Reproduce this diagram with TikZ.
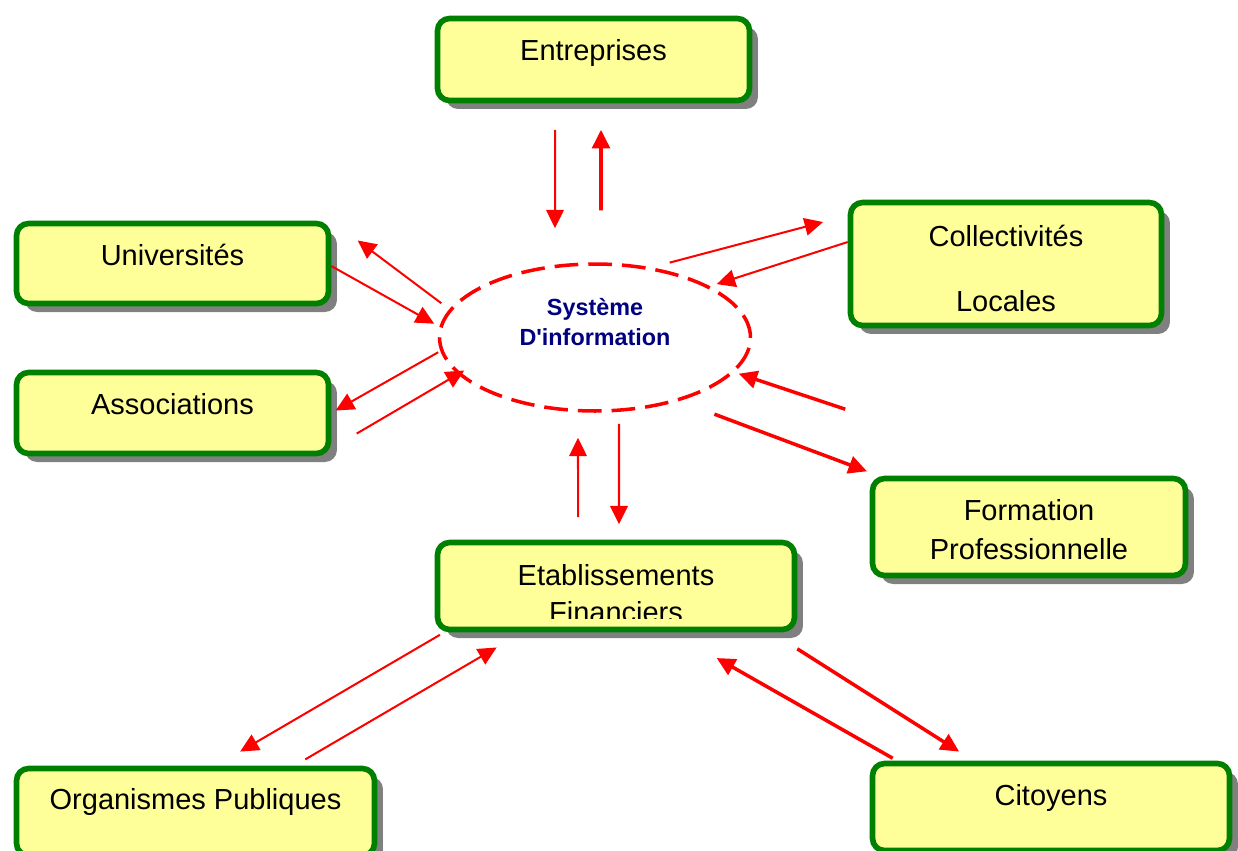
\documentclass[tikz,border=0pt]{standalone}
\usepackage{fontspec}
\setmainfont{Liberation Sans}
\usetikzlibrary{shapes.geometric,arrows.meta,shadows}

\definecolor{jaune}{HTML}{FFFF99}
\definecolor{vert}{HTML}{008000}
\definecolor{rouge}{HTML}{FF0000}
\definecolor{bleunuit}{HTML}{000080}
\definecolor{ombre}{HTML}{808080}

\begin{document}
\begin{tikzpicture}[x=0.02cm, y=-0.02cm]

    % Styles des noeuds
    \tikzstyle{boite} = [rectangle, rounded corners=0.24cm, draw=vert, line width=3.2pt, fill=jaune, inner sep=0pt, drop shadow={shadow xshift=0.17cm, shadow yshift=-0.17cm, fill=ombre, opacity=1}]
    \tikzstyle{ovale} = [ellipse, draw=rouge, line width=2pt, dash pattern=on 13.5pt off 5.7pt, minimum width=6.22cm, minimum height=2.94cm, inner sep=0pt]
    \tikzstyle{texte} = [font=\fontsize{16.5}{20}\selectfont, text height=12.4pt, text depth=4.1pt, inner sep=0pt]
    \tikzstyle{texte2} = [align=center, inner sep=0pt]
    \tikzstyle{titre} = [font=\bfseries\fontsize{13.3}{17}\selectfont, text=bleunuit, align=center, inner sep=0pt]
    \tikzstyle{fleche} = [draw=rouge, line width=1.15pt, -{Triangle[length=10.5pt,width=10pt]}]
    \tikzstyle{grossefleche} = [fleche, line width=2pt]

    \useasboundingbox (0,0) rectangle (1238,850);

    % Noeuds
    \node (si) [ovale] at (595,337.5) {};
    \node (si-t) [titre] at (595,322) {Système\\D\textquotesingle information};

    \node (entr) [boite, minimum width=6.24cm, minimum height=1.64cm] at (593.5,59.5) {};
    \node (entr-t) [texte] at (593.5,53.5) {Entreprises};

    \node (univ) [boite, minimum width=6.24cm, minimum height=1.6cm] at (172.5,263.5) {};
    \node (univ-t) [texte] at (172.5,258) {Universités};

    \node (asso) [boite, minimum width=6.24cm, minimum height=1.62cm] at (172.5,413) {};
    \node (asso-t) [texte] at (172.5,407) {Associations};

    \node (coll) [boite, minimum width=6.22cm, minimum height=2.46cm] at (1006,264) {};
    \node (coll-t) [texte2, font=\fontsize{16.5}{36.85}\selectfont] at (1006,268.5) {Collectivités\\Locales};

    \node (form) [boite, minimum width=6.26cm, minimum height=1.94cm] at (1029,527) {};
    \node (form-t) [texte2, font=\fontsize{16.5}{22.1}\selectfont] at (1029,529.3) {Formation\\Professionnelle};

    \node (etab) [boite, minimum width=7.14cm, minimum height=1.74cm] at (616,586) {};
    \begin{scope}
        \clip ([yshift=0.28cm]etab.south west) rectangle (etab.north east);
        \node (etab-t) [texte2, font=\fontsize{16.5}{21}\selectfont] at (616,593.3) {Etablissements\\Financiers};
    \end{scope}

    \node (orga) [boite, minimum width=7.16cm, minimum height=1.74cm] at (195.5,812) {};
    \node (orga-t) [texte] at (195.5,802.5) {Organismes Publiques};

    \node (cito) [boite, minimum width=7.14cm, minimum height=1.74cm] at (1051,807) {};
    \node (cito-t) [texte] at (1051,798) {Citoyens};

    % Flèches
    \draw [fleche, shorten <=0.53cm, shorten >=0.68cm] ([xshift=-0.77cm]entr.south) -- ([xshift=-0.8cm]si.north);
    \draw [grossefleche, shorten <=1.04cm, shorten >=0.53cm] ([xshift=0.12cm]si.north) -- ([xshift=0.15cm]entr.south);

    \draw [fleche, shorten <=0.2cm, shorten >=0.66cm] (si.169.6) -- (univ.north east);
    \draw [fleche, shorten >=0.12cm] ([yshift=-0.05cm]univ.east) -- (si.176.4);

    \draw [fleche, shorten <=0.05cm, shorten >=0.1cm] (si.185) -- (asso.east);
    \draw [fleche, shorten <=0.59cm, shorten >=-0.15cm] ([yshift=-0.71cm]asso.east) -- (si.195);

    \draw [fleche, shorten <=0.37cm, shorten >=0.51cm] (si.51.3) -- ([yshift=0.97cm]coll.west);
    \draw [fleche, shorten >=0.14cm] ([yshift=0.44cm]coll.west) -- (si.24);

    \draw [grossefleche, shorten >=0.09cm] ([xshift=-0.49cm, yshift=1.33cm]form.north west) -- (si.346.6);
    \draw [grossefleche, shorten <=0.75cm, shorten >=0.25cm] (si.323.7) -- ([xshift=0.18cm]form.north west);

    \draw [fleche, shorten <=0.45cm, shorten >=0.5cm] ([xshift=-0.76cm]etab.north) -- ([xshift=-0.34cm]si.south);
    \draw [fleche, line width=1.4pt, shorten <=0.22cm, shorten >=0.31cm] ([xshift=0.48cm]si.south) -- ([xshift=0.06cm]etab.north);

    \draw [fleche, shorten <=0.1cm, shorten >=0.56cm] ([xshift=0.19cm]etab.south west) -- ([xshift=0.41cm]orga.north);
    \draw [fleche, shorten <=0.25cm, shorten >=0.6cm] ([xshift=1.98cm]orga.north) -- ([xshift=-1.87cm]etab.south);

    \draw [grossefleche, shorten >=0.34cm] ([yshift=-0.33cm]etab.south east) -- ([xshift=-1.55cm]cito.north);
    \draw [grossefleche, shorten <=0.1cm, shorten >=1.04cm] ([xshift=-3.08cm]cito.north) -- ([xshift=1.11cm]etab.south);

\end{tikzpicture}
\end{document}
